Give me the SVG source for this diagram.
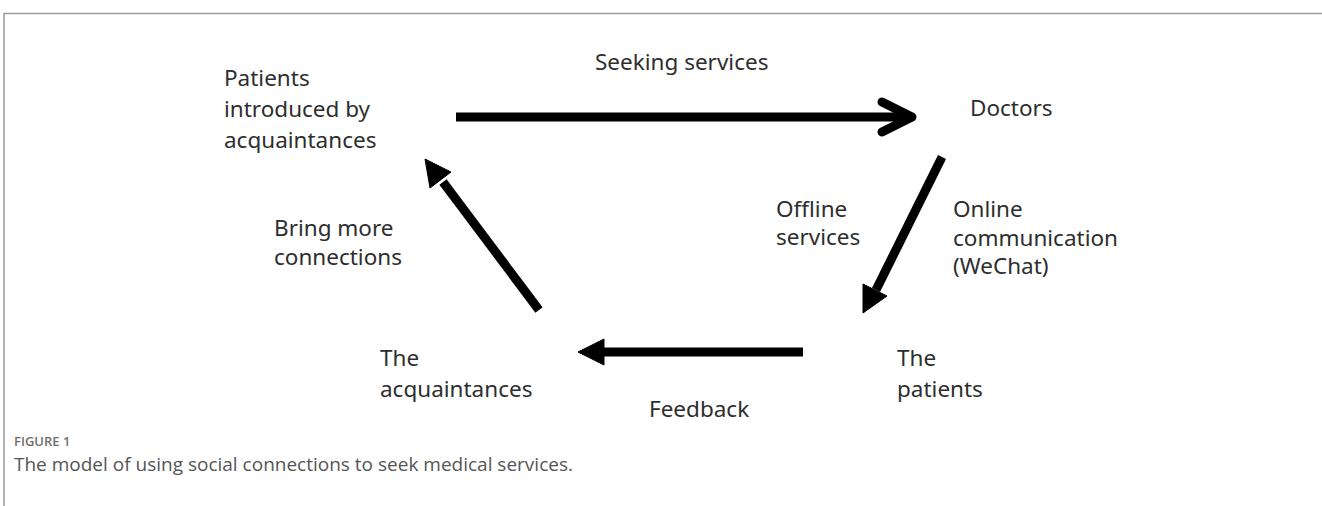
<svg xmlns="http://www.w3.org/2000/svg" width="1322" height="506" viewBox="0 0 1322 506">
  <style>
    .lbl { font-family: "Noto Sans", "Open Sans", sans-serif; font-size: 22.5px; fill: #2e2e2e; }
    .shaft { stroke: #000; stroke-width: 9; fill: none; }
    .head { fill: #000; stroke: #000; stroke-width: 1; stroke-linejoin: miter; }
    .chev { stroke: #000; stroke-width: 9; stroke-linecap: round; stroke-linejoin: round; fill: none; }
    .frame { stroke: #9a9a9a; stroke-width: 1.5; fill: none; }
    .figno { font-family: "Open Sans", "Noto Sans", sans-serif; font-size: 13px; font-weight: 600; fill: #6e6e6e; }
    .cap { font-family: "Open Sans", "Noto Sans", sans-serif; font-size: 19px; fill: #555; }
  </style>

  <rect width="1322" height="506" fill="#fff"/>

  <!-- page frame -->
  <path class="frame" d="M4 506 V13.5 H1322"/>

  <!-- nodes -->
  <g id="node-referred-patients">
    <text class="lbl" x="224" y="86">Patients</text>
    <text class="lbl" x="224" y="117">introduced by</text>
    <text class="lbl" x="224" y="148">acquaintances</text>
  </g>
  <g id="node-doctors">
    <text class="lbl" x="970" y="116">Doctors</text>
  </g>
  <g id="node-patients">
    <text class="lbl" x="897" y="366">The</text>
    <text class="lbl" x="897" y="397">patients</text>
  </g>
  <g id="node-acquaintances">
    <text class="lbl" x="380" y="366">The</text>
    <text class="lbl" x="380" y="397">acquaintances</text>
  </g>

  <!-- connectors -->
  <g id="connectors">
    <!-- seeking services -->
    <line class="shaft" x1="456" y1="117" x2="908" y2="117"/>
    <path class="chev" d="M882 102 L912 117 L882 132"/>

    <!-- doctors to patients -->
    <line class="shaft" x1="942" y1="157" x2="876" y2="290"/>
    <polygon class="head" points="863,313 863,284 887,296"/>

    <!-- feedback -->
    <line class="shaft" x1="803" y1="352" x2="600" y2="352"/>
    <polygon class="head" points="578,352 604,339 604,365"/>

    <!-- bring more connections -->
    <line class="shaft" x1="539" y1="310" x2="443" y2="182"/>
    <polygon class="head" points="425,159 430,188 451,172"/>
  </g>

  <!-- connector labels -->
  <g id="edge-labels">
    <text class="lbl" x="595" y="70">Seeking services</text>
    <text class="lbl" x="776" y="217">Offline</text>
    <text class="lbl" x="776" y="245">services</text>
    <text class="lbl" x="953" y="217">Online</text>
    <text class="lbl" x="953" y="246">communication</text>
    <text class="lbl" x="953" y="274">(WeChat)</text>
    <text class="lbl" x="274" y="236">Bring more</text>
    <text class="lbl" x="274" y="265">connections</text>
    <text class="lbl" x="649" y="417">Feedback</text>
  </g>

  <!-- caption -->
  <g id="caption">
    <text class="figno" x="14" y="446">FIGURE 1</text>
    <text class="cap" x="14" y="471">The model of using social connections to seek medical services.</text>
  </g>
</svg>
